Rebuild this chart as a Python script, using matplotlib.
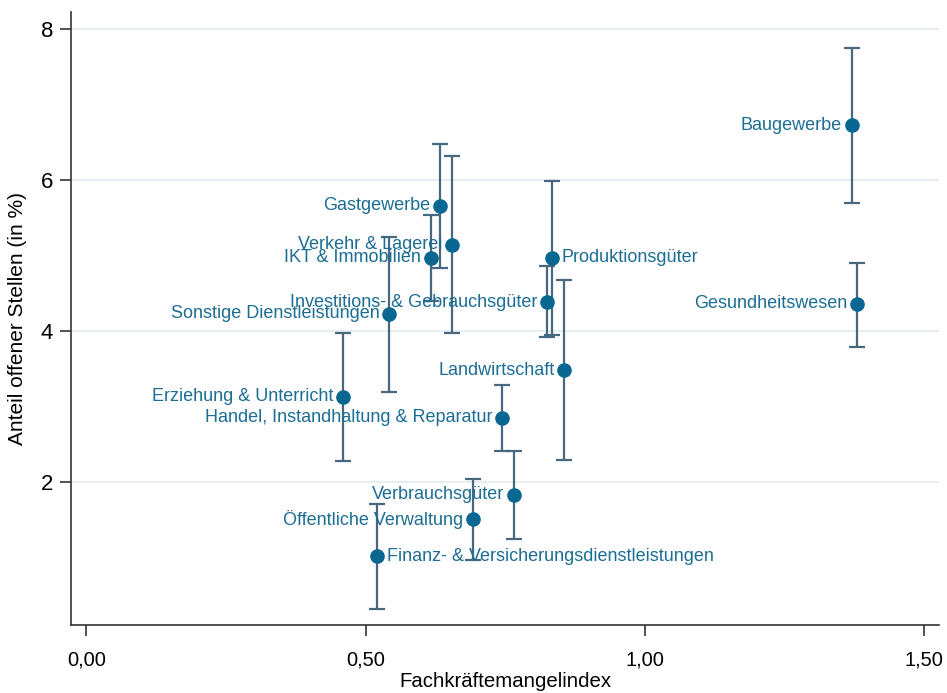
import matplotlib.pyplot as plt
from matplotlib.ticker import FuncFormatter

# data
branchen = [
    "Baugewerbe", "Gesundheitswesen", "Gastgewerbe", "Verkehr & Lagerei",
    "IKT & Immobilien", "Sonstige Dienstleistungen",
    "Investitions- & Gebrauchsgüter", "Produktionsgüter", "Landwirtschaft",
    "Erziehung & Unterricht", "Handel, Instandhaltung & Reparatur",
    "Verbrauchsgüter", "Öffentliche Verwaltung",
    "Finanz- & Versicherungsdienstleistungen",
]
fk_index = [1.370, 1.380, 0.633, 0.655, 0.617, 0.542, 0.825, 0.834, 0.855,
            0.460, 0.744, 0.766, 0.692, 0.520]
anteil = [6.72, 4.36, 5.66, 5.14, 4.97, 4.23, 4.38, 4.97, 3.48,
          3.13, 2.85, 1.83, 1.51, 1.02]
ci_low = [5.69, 3.79, 4.83, 3.97, 4.40, 3.19, 3.92, 3.95, 2.29,
          2.28, 2.41, 1.25, 0.97, 0.32]
ci_high = [7.74, 4.90, 6.48, 6.32, 5.54, 5.25, 4.86, 5.99, 4.68,
           3.97, 3.29, 2.41, 2.04, 1.71]
label_right = ["Produktionsgüter", "Finanz- & Versicherungsdienstleistungen"]

x_ticks = [0.0, 0.5, 1.0, 1.5]
y_ticks = [2, 4, 6, 8]

dot_color = "#0a6791"
bar_color = "#48687f"
text_color = "#1b6d93"

plt.rcParams["font.family"] = ["Liberation Sans", "DejaVu Sans"]

fig = plt.figure(figsize=(9.47, 6.93), dpi=100)
ax = fig.add_axes([0.075, 0.098, 0.917, 0.885])

yerr = [[a - lo for a, lo in zip(anteil, ci_low)],
        [hi - a for a, hi in zip(anteil, ci_high)]]
ax.errorbar(fk_index, anteil, yerr=yerr, fmt="none", ecolor=bar_color,
            elinewidth=1.6, capsize=5.5, capthick=1.6, zorder=2)
ax.plot(fk_index, anteil, "o", color=dot_color, markersize=9.5, zorder=3)

for name, x, y in zip(branchen, fk_index, anteil):
    if name in label_right:
        ax.annotate(name, (x, y), xytext=(7, 0), textcoords="offset points",
                    ha="left", va="center", color=text_color, fontsize=13, zorder=4)
    else:
        ax.annotate(name, (x, y), xytext=(-7, 0), textcoords="offset points",
                    ha="right", va="center", color=text_color, fontsize=13, zorder=4)

ax.set_xlim(-0.0274, 1.527)
ax.set_ylim(0.106, 8.225)
ax.set_xticks(x_ticks)
ax.set_yticks(y_ticks)
ax.xaxis.set_major_formatter(FuncFormatter(lambda v, p: f"{v:.2f}".replace(".", ",")))
ax.tick_params(axis="both", length=8, width=1.2, color="#333333")
ax.tick_params(axis="x", labelsize=14.5, pad=10)
ax.tick_params(axis="y", labelsize=16, pad=5)

ax.grid(axis="y", color="#e6eef1", linewidth=1.5)
ax.set_axisbelow(True)
for side in ["top", "right"]:
    ax.spines[side].set_visible(False)
for side in ["left", "bottom"]:
    ax.spines[side].set_color("#333333")
    ax.spines[side].set_linewidth(1.2)

ax.set_xlabel("Fachkräftemangelindex", fontsize=14.7, labelpad=2)
ax.set_ylabel("Anteil offener Stellen (in %)", fontsize=15, labelpad=10)

fig.savefig("out.png", dpi=100)
